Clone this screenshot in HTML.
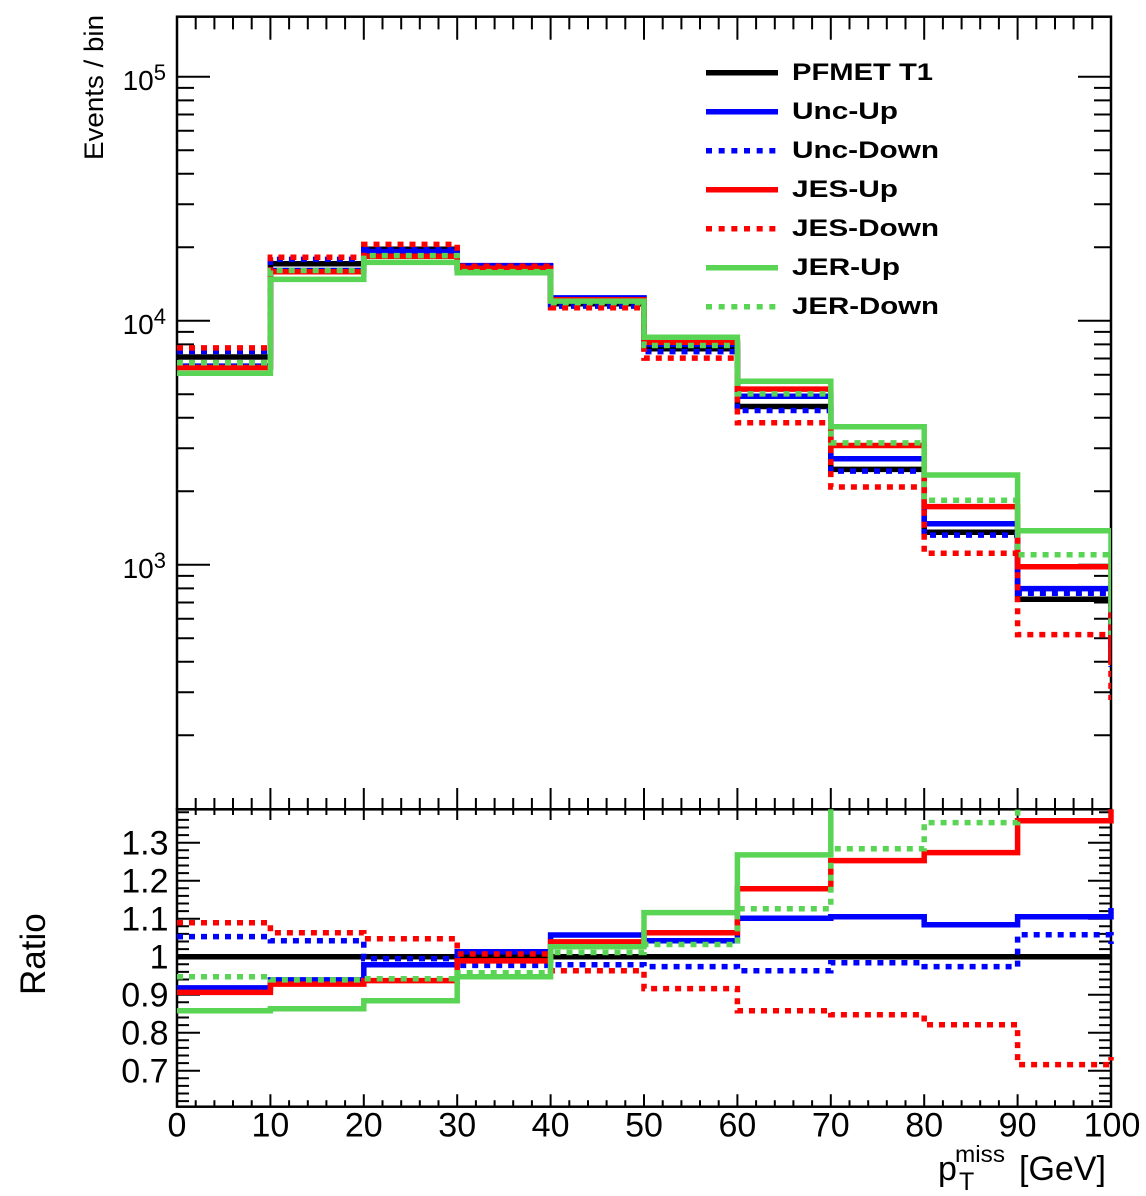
<!DOCTYPE html>
<html><head><meta charset="utf-8"><style>
html,body{margin:0;padding:0;background:#fff;}
svg{display:block;}
text{font-family:"Liberation Sans",Arial,sans-serif;fill:#000;}
</style></head><body>
<svg width="1146" height="1196" viewBox="0 0 1146 1196" xmlns="http://www.w3.org/2000/svg">
<defs>
<clipPath id="cu"><rect x="177" y="16.7" width="934" height="792.6"/></clipPath>
<clipPath id="cr"><rect x="174" y="809.3" width="940" height="297.4"/></clipPath>
</defs>
<rect width="1146" height="1196" fill="#fff"/>

<!-- frames -->
<rect x="177" y="16.7" width="934" height="792.6" fill="none" stroke="#000" stroke-width="2.5"/>
<rect x="177" y="809.3" width="934" height="297.4" fill="none" stroke="#000" stroke-width="2.5"/>

<!-- upper x ticks (top, pointing down) -->
<g stroke="#000" stroke-width="2" fill="none">
<path d="M195.7,16.7v12.7M214.4,16.7v12.7M233,16.7v12.7M251.7,16.7v12.7M270.4,16.7v23M289.1,16.7v12.7M307.8,16.7v12.7M326.4,16.7v12.7M345.1,16.7v12.7M363.8,16.7v23M382.5,16.7v12.7M401.2,16.7v12.7M419.8,16.7v12.7M438.5,16.7v12.7M457.2,16.7v23M475.9,16.7v12.7M494.6,16.7v12.7M513.2,16.7v12.7M531.9,16.7v12.7M550.6,16.7v23M569.3,16.7v12.7M588,16.7v12.7M606.6,16.7v12.7M625.3,16.7v12.7M644,16.7v23M662.7,16.7v12.7M681.4,16.7v12.7M700,16.7v12.7M718.7,16.7v12.7M737.4,16.7v23M756.1,16.7v12.7M774.8,16.7v12.7M793.4,16.7v12.7M812.1,16.7v12.7M830.8,16.7v23M849.5,16.7v12.7M868.2,16.7v12.7M886.8,16.7v12.7M905.5,16.7v12.7M924.2,16.7v23M942.9,16.7v12.7M961.6,16.7v12.7M980.2,16.7v12.7M998.9,16.7v12.7M1017.6,16.7v23M1036.3,16.7v12.7M1055,16.7v12.7M1073.6,16.7v12.7M1092.3,16.7v12.7"/>
<!-- upper x ticks (bottom, pointing up) and ratio top ticks (pointing down) -->
<path d="M195.7,815v-17M214.4,815v-17M233,815v-17M251.7,815v-17M270.4,820v-32M289.1,815v-17M307.8,815v-17M326.4,815v-17M345.1,815v-17M363.8,820v-32M382.5,815v-17M401.2,815v-17M419.8,815v-17M438.5,815v-17M457.2,820v-32M475.9,815v-17M494.6,815v-17M513.2,815v-17M531.9,815v-17M550.6,820v-32M569.3,815v-17M588,815v-17M606.6,815v-17M625.3,815v-17M644,820v-32M662.7,815v-17M681.4,815v-17M700,815v-17M718.7,815v-17M737.4,820v-32M756.1,815v-17M774.8,815v-17M793.4,815v-17M812.1,815v-17M830.8,820v-32M849.5,815v-17M868.2,815v-17M886.8,815v-17M905.5,815v-17M924.2,820v-32M942.9,815v-17M961.6,815v-17M980.2,815v-17M998.9,815v-17M1017.6,820v-32M1036.3,815v-17M1055,815v-17M1073.6,815v-17M1092.3,815v-17"/>
<!-- ratio bottom ticks (pointing up) -->
<path d="M195.7,1106.7v-6.5M214.4,1106.7v-6.5M233,1106.7v-6.5M251.7,1106.7v-6.5M270.4,1106.7v-12.5M289.1,1106.7v-6.5M307.8,1106.7v-6.5M326.4,1106.7v-6.5M345.1,1106.7v-6.5M363.8,1106.7v-12.5M382.5,1106.7v-6.5M401.2,1106.7v-6.5M419.8,1106.7v-6.5M438.5,1106.7v-6.5M457.2,1106.7v-12.5M475.9,1106.7v-6.5M494.6,1106.7v-6.5M513.2,1106.7v-6.5M531.9,1106.7v-6.5M550.6,1106.7v-12.5M569.3,1106.7v-6.5M588,1106.7v-6.5M606.6,1106.7v-6.5M625.3,1106.7v-6.5M644,1106.7v-12.5M662.7,1106.7v-6.5M681.4,1106.7v-6.5M700,1106.7v-6.5M718.7,1106.7v-6.5M737.4,1106.7v-12.5M756.1,1106.7v-6.5M774.8,1106.7v-6.5M793.4,1106.7v-6.5M812.1,1106.7v-6.5M830.8,1106.7v-12.5M849.5,1106.7v-6.5M868.2,1106.7v-6.5M886.8,1106.7v-6.5M905.5,1106.7v-6.5M924.2,1106.7v-12.5M942.9,1106.7v-6.5M961.6,1106.7v-6.5M980.2,1106.7v-6.5M998.9,1106.7v-6.5M1017.6,1106.7v-12.5M1036.3,1106.7v-6.5M1055,1106.7v-6.5M1073.6,1106.7v-6.5M1092.3,1106.7v-6.5"/>
<!-- upper y ticks left -->
<path d="M177,735.3h17M177,692.3h17M177,661.8h17M177,638.2h17M177,618.8h17M177,602.5h17M177,588.4h17M177,575.9h17M177,564.7h33M177,491.3h17M177,448.3h17M177,417.8h17M177,394.2h17M177,374.8h17M177,358.5h17M177,344.4h17M177,331.9h17M177,320.7h33M177,247.3h17M177,204.3h17M177,173.8h17M177,150.2h17M177,130.8h17M177,114.5h17M177,100.4h17M177,87.9h17M177,76.7h33"/>
<!-- upper y ticks right -->
<path d="M1111,735.3h-17M1111,692.3h-17M1111,661.8h-17M1111,638.2h-17M1111,618.8h-17M1111,602.5h-17M1111,588.4h-17M1111,575.9h-17M1111,564.7h-33M1111,491.3h-17M1111,448.3h-17M1111,417.8h-17M1111,394.2h-17M1111,374.8h-17M1111,358.5h-17M1111,344.4h-17M1111,331.9h-17M1111,320.7h-33M1111,247.3h-17M1111,204.3h-17M1111,173.8h-17M1111,150.2h-17M1111,130.8h-17M1111,114.5h-17M1111,100.4h-17M1111,87.9h-17M1111,76.7h-33"/>
<!-- ratio y ticks left -->
<path d="M177,1101.1h12M177,1093.5h12M177,1085.9h12M177,1078.3h12M177,1070.7h23M177,1063.1h12M177,1055.5h12M177,1047.9h12M177,1040.3h12M177,1032.7h23M177,1025.1h12M177,1017.5h12M177,1009.9h12M177,1002.3h12M177,994.7h23M177,987.1h12M177,979.5h12M177,971.9h12M177,964.3h12M177,956.7h23M177,949.1h12M177,941.5h12M177,933.9h12M177,926.3h12M177,918.7h23M177,911.1h12M177,903.5h12M177,895.9h12M177,888.3h12M177,880.7h23M177,873.1h12M177,865.5h12M177,857.9h12M177,850.3h12M177,842.7h23M177,835.1h12M177,827.5h12M177,819.9h12M177,812.3h12"/>
<!-- ratio y ticks right -->
<path d="M1111,1101.1h-12M1111,1093.5h-12M1111,1085.9h-12M1111,1078.3h-12M1111,1070.7h-23M1111,1063.1h-12M1111,1055.5h-12M1111,1047.9h-12M1111,1040.3h-12M1111,1032.7h-23M1111,1025.1h-12M1111,1017.5h-12M1111,1009.9h-12M1111,1002.3h-12M1111,994.7h-23M1111,987.1h-12M1111,979.5h-12M1111,971.9h-12M1111,964.3h-12M1111,956.7h-23M1111,949.1h-12M1111,941.5h-12M1111,933.9h-12M1111,926.3h-12M1111,918.7h-23M1111,911.1h-12M1111,903.5h-12M1111,895.9h-12M1111,888.3h-12M1111,880.7h-23M1111,873.1h-12M1111,865.5h-12M1111,857.9h-12M1111,850.3h-12M1111,842.7h-23M1111,835.1h-12M1111,827.5h-12M1111,819.9h-12M1111,812.3h-12"/>
</g>

<!-- upper histograms -->
<g clip-path="url(#cu)" fill="none" stroke-width="5.5" stroke-linejoin="miter" stroke-linecap="butt">
<path stroke="#000" d="M177,357H270.4V263.8H363.8V249.3H457.2V267H550.6V303.8H644V348.8H737.4V406.5H830.8V469.4H924.2V532.3H1017.6V599.2H1111V662"/>
<path stroke="#0000ff" d="M177,366.1H270.4V270.5H363.8V251.6H457.2V265.6H550.6V297.9H644V344.4H737.4V396.3H830.8V458.8H924.2V523.8H1017.6V588.6H1111V652"/>
<path stroke="#0000ff" stroke-dasharray="6 6" d="M177,351.5H270.4V259.4H363.8V249.8H457.2V269.5H550.6V306.1H644V351.6H737.4V410.5H830.8V471.1H924.2V535.1H1017.6V593.2H1111V667"/>
<path stroke="#ff0000" d="M177,367.5H270.4V271.7H363.8V256.2H457.2V268.2H550.6V299.8H644V342.3H737.4V389.1H830.8V445.5H924.2V506.6H1017.6V566.8H1111V663"/>
<path stroke="#ff0000" stroke-dasharray="6 6" d="M177,347.9H270.4V257.3H363.8V244.4H457.2V266.3H550.6V307.8H644V358.1H737.4V422.7H830.8V487H924.2V553.2H1017.6V634.6H1111V700"/>
<path stroke="#5ad454" d="M177,373.2H270.4V279.4H363.8V262.4H457.2V272.8H550.6V301.1H644V337.2H737.4V381.3H830.8V426.7H924.2V475H1017.6V530.7H1111V612"/>
<path stroke="#5ad454" stroke-dasharray="6 6" d="M177,362.8H270.4V270.5H363.8V255.6H457.2V271.6H550.6V302.6H644V345.5H737.4V393.9H830.8V442.9H924.2V500.3H1017.6V554.8H1111V635"/>
</g>

<!-- ratio histograms -->
<g clip-path="url(#cr)" fill="none" stroke-width="5.5" stroke-linejoin="miter" stroke-linecap="butt">
<path stroke="#000" d="M177,956.7H1111"/>
<path stroke="#0000ff" d="M177,987.9H270.4V979.9H363.8V964.7H457.2V951.8H550.6V935H644V940.7H737.4V918.3H830.8V916.8H924.2V924.8H1017.6V916.8H1111V908"/>
<path stroke="#0000ff" stroke-dasharray="6 6" d="M177,936.6H270.4V940.7H363.8V958.6H457.2V965.4H550.6V964.7H644V966.6H737.4V970.8H830.8V962.8H924.2V966.6H1017.6V934.7H1111V944"/>
<path stroke="#ff0000" d="M177,992.4H270.4V984.1H363.8V980.6H457.2V960.9H550.6V941.9H644V932.8H737.4V888.7H830.8V860.6H924.2V852.6H1017.6V820.7H1111V790"/>
<path stroke="#ff0000" stroke-dasharray="6 6" d="M177,922.7H270.4V932.8H363.8V938.8H457.2V954H550.6V970.8H644V988.6H737.4V1010.7H830.8V1014.8H924.2V1024.7H1017.6V1064.6H1111V1057"/>
<path stroke="#5ad454" d="M177,1010.7H270.4V1008.8H363.8V1000.8H457.2V976.8H550.6V946.8H644V912.6H737.4V854.9H830.8V768H924.2V700H1017.6V650H1111V640"/>
<path stroke="#5ad454" stroke-dasharray="6 6" d="M177,976.8H270.4V979.9H363.8V978.7H457.2V972.7H550.6V952.5H644V944.5H737.4V908.8H830.8V848.8H924.2V822.6H1017.6V759H1111V750"/>
</g>

<!-- legend -->
<g fill="none" stroke-width="5.5">
<path stroke="#000" d="M706,72.7H778"/>
<path stroke="#0000ff" d="M706,111.7H778"/>
<path stroke="#0000ff" stroke-dasharray="6 6.67" d="M706,150.7H778"/>
<path stroke="#ff0000" d="M706,189.7H778"/>
<path stroke="#ff0000" stroke-dasharray="6 6.67" d="M706,228.7H778"/>
<path stroke="#5ad454" d="M706,267.7H778"/>
<path stroke="#5ad454" stroke-dasharray="6 6.67" d="M706,306.7H778"/>
</g>
<g font-size="24" font-weight="bold">
<text x="792" y="80" textLength="141" lengthAdjust="spacingAndGlyphs">PFMET T1</text>
<text x="792" y="119" textLength="106" lengthAdjust="spacingAndGlyphs">Unc-Up</text>
<text x="792" y="158" textLength="147" lengthAdjust="spacingAndGlyphs">Unc-Down</text>
<text x="792" y="197" textLength="106" lengthAdjust="spacingAndGlyphs">JES-Up</text>
<text x="792" y="236" textLength="147" lengthAdjust="spacingAndGlyphs">JES-Down</text>
<text x="792" y="275" textLength="108" lengthAdjust="spacingAndGlyphs">JER-Up</text>
<text x="792" y="314" textLength="147" lengthAdjust="spacingAndGlyphs">JER-Down</text>
</g>

<!-- upper y labels -->
<g font-size="28" text-anchor="end">
<text x="166" y="90">10<tspan font-size="22" dy="-10">5</tspan></text>
<text x="166" y="334">10<tspan font-size="22" dy="-10">4</tspan></text>
<text x="166" y="578">10<tspan font-size="22" dy="-10">3</tspan></text>
</g>
<text transform="translate(103,160) rotate(-90)" font-size="27" textLength="145" lengthAdjust="spacingAndGlyphs">Events / bin</text>

<!-- ratio y labels -->
<g font-size="34" text-anchor="end">
<text x="168.5" y="854.4">1.3</text>
<text x="168.5" y="892.4">1.2</text>
<text x="168.5" y="930.4">1.1</text>
<text x="168.5" y="968.4">1</text>
<text x="168.5" y="1006.4">0.9</text>
<text x="168.5" y="1044.4">0.8</text>
<text x="168.5" y="1082.4">0.7</text>
</g>
<text transform="translate(45,995) rotate(-90)" font-size="35">Ratio</text>

<!-- x labels -->
<g font-size="34" text-anchor="middle">
<text x="177" y="1136.5">0</text>
<text x="270.4" y="1136.5">10</text>
<text x="363.8" y="1136.5">20</text>
<text x="457.2" y="1136.5">30</text>
<text x="550.6" y="1136.5">40</text>
<text x="644" y="1136.5">50</text>
<text x="737.4" y="1136.5">60</text>
<text x="830.8" y="1136.5">70</text>
<text x="924.2" y="1136.5">80</text>
<text x="1017.6" y="1136.5">90</text>
<text x="1112" y="1136.5">100</text>
</g>
<text x="938" y="1180" font-size="34">p</text>
<text x="959" y="1190" font-size="25">T</text>
<text x="955" y="1162" font-size="23" textLength="50" lengthAdjust="spacingAndGlyphs">miss</text>
<text x="1019" y="1180" font-size="34">[GeV]</text>
</svg>
</body></html>
